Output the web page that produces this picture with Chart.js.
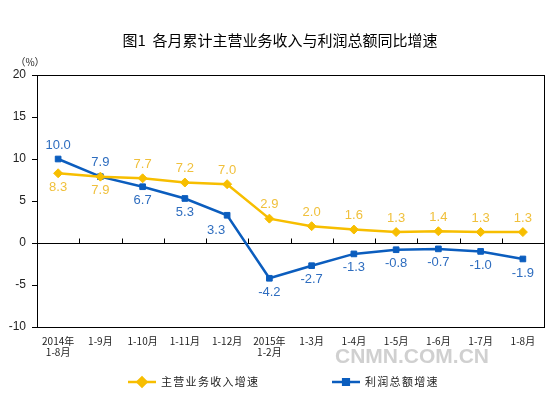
<!DOCTYPE html>
<html>
<head>
<meta charset="utf-8">
<script src="https://cdn.jsdelivr.net/npm/chart.js@4"></script>
<style>
  html, body { margin: 0; padding: 0; background: #fff; }
  #wrap { width: 551px; height: 397px; }
</style>
</head>
<body>
<div id="wrap"><canvas id="growth" width="551" height="397"></canvas></div>
<script>
// data
const categories = [['2014年', '1-8月'], '1-9月', '1-10月', '1-11月', '1-12月', ['2015年', '1-2月'],
  '1-3月', '1-4月', '1-5月', '1-6月', '1-7月', '1-8月'];
const revenueGrowth = [8.3, 7.9, 7.7, 7.2, 7.0, 2.9, 2.0, 1.6, 1.3, 1.4, 1.3, 1.3];
const profitGrowth = [10.0, 7.9, 6.7, 5.3, 3.3, -4.2, -2.7, -1.3, -0.8, -0.7, -1.0, -1.9];
const seriesNames = ['主营业务收入增速', '利润总额增速'];
const yMin = -10, yMax = 20, yStep = 5;

const titleText = '图1  各月累计主营业务收入与利润总额同比增速';
const yellow = '#F7BE00', blue = '#0B5DBE';
const yellowText = '#F0C03C', blueText = '#2E6DBF';

// where each value label sits relative to its point
const revenueLabelSide = ['below', 'below', 'above', 'above', 'above', 'above', 'above', 'above', 'above', 'above', 'above', 'above'];
const profitLabelSide = ['above', 'above', 'below', 'below', 'belowLeft', 'below', 'below', 'below', 'below', 'below', 'below', 'below'];

const decorPlugin = {
  id: 'decor',
  afterDraw(chart) {
    const ctx = chart.ctx;
    const area = chart.chartArea;
    const x = chart.scales.x, y = chart.scales.y;
    ctx.save();
    // frame
    ctx.strokeStyle = '#000';
    ctx.lineWidth = 1;
    ctx.strokeRect(Math.round(area.left) + 0.5, Math.round(area.top) + 0.5,
      Math.round(area.right - area.left), Math.round(area.bottom - area.top));
    // category ticks on the zero line
    const y0 = Math.round(y.getPixelForValue(0)) + 0.5;
    const step = x.getPixelForValue(1) - x.getPixelForValue(0);
    ctx.beginPath();
    for (let i = 1; i < categories.length; i++) {
      const px = Math.round(x.getPixelForValue(i) - step / 2) + 0.5;
      ctx.moveTo(px, y0);
      ctx.lineTo(px, y0 - 5);
    }
    ctx.stroke();

    // title
    ctx.fillStyle = '#000';
    ctx.font = '15px "Noto Sans CJK SC"';
    ctx.textAlign = 'center';
    ctx.textBaseline = 'middle';
    ctx.fillText(titleText, 280, 40);

    // unit
    ctx.font = '10px "Noto Sans CJK SC"';
    ctx.fillStyle = '#222';
    ctx.fillText('（%）', 30, 62);

    // watermark
    ctx.font = 'bold 21px "Liberation Sans"';
    ctx.fillStyle = 'rgba(170,170,170,0.55)';
    ctx.fillText('CNMN.COM.CN', 412, 357);

    // legend
    const items = [[128, 0], [332, 1]];
    items.forEach(([lx, di]) => {
      const ds = chart.data.datasets[di];
      const ly = 382;
      ctx.strokeStyle = ds.borderColor;
      ctx.lineWidth = 2.5;
      ctx.beginPath();
      ctx.moveTo(lx, ly);
      ctx.lineTo(lx + 28, ly);
      ctx.stroke();
      Chart.helpers.drawPoint(ctx, {pointStyle: ds.pointStyle, radius: ds.pointRadius, borderWidth: 1},
        lx + 14, ly);
      ctx.fillStyle = ds.borderColor;
      ctx.fill();
      ctx.fillStyle = '#222';
      ctx.font = '11px "Noto Sans CJK SC"';
      ctx.letterSpacing = '1.3px';
      ctx.textAlign = 'left';
      ctx.fillText(ds.label, lx + 33, ly);
      ctx.letterSpacing = '0px';
    });
    ctx.restore();
  },
  afterDatasetsDraw(chart) {
    const ctx = chart.ctx;
    ctx.save();
    ctx.font = '13px "Liberation Sans"';
    ctx.textAlign = 'center';
    ctx.textBaseline = 'middle';
    const sides = [revenueLabelSide, profitLabelSide];
    const colors = [yellowText, blueText];
    chart.data.datasets.forEach((ds, di) => {
      const meta = chart.getDatasetMeta(di);
      meta.data.forEach((pt, i) => {
        const side = sides[di][i];
        let dx = 0, dy = side === 'above' ? -14 : 14;
        if (side === 'belowLeft') { dx = -11; dy = 15; }
        ctx.fillStyle = colors[di];
        ctx.fillText(ds.data[i].toFixed(1), pt.x + dx, pt.y + dy);
      });
    });
    ctx.restore();
  }
};

new Chart(document.getElementById('growth'), {
  type: 'line',
  data: {
    labels: categories,
    datasets: [
      {
        label: seriesNames[0],
        data: revenueGrowth,
        borderColor: yellow,
        backgroundColor: yellow,
        borderWidth: 2.5,
        pointStyle: 'rectRot',
        pointRadius: 4.5,
        pointBorderWidth: 1,
        tension: 0
      },
      {
        label: seriesNames[1],
        data: profitGrowth,
        borderColor: blue,
        backgroundColor: blue,
        borderWidth: 2.5,
        pointStyle: 'rect',
        pointRadius: 4,
        pointBorderWidth: 1,
        tension: 0
      }
    ]
  },
  options: {
    responsive: false,
    animation: false,
    devicePixelRatio: 1,
    layout: { padding: { top: 75, right: 7, bottom: 40, left: 0 } },
    plugins: {
      legend: { display: false },
      title: { display: false },
      tooltip: { enabled: false }
    },
    scales: {
      x: {
        offset: true,
        afterFit: s => { s.height = 30; },
        grid: { display: false, drawTicks: false },
        border: { display: false },
        ticks: {
          color: '#222',
          padding: 9,
          autoSkip: false,
          maxRotation: 0,
          font: { family: '"Noto Sans CJK SC"', size: 10, lineHeight: 1.05 }
        }
      },
      y: {
        min: yMin,
        max: yMax,
        afterFit: s => { s.width = 37; },
        grid: {
          color: c => (c.tick && c.tick.value === 0 ? '#000' : 'rgba(0,0,0,0)'),
          tickColor: '#000',
          tickLength: 5
        },
        border: { display: false },
        ticks: {
          stepSize: yStep,
          padding: 6,
          color: '#222',
          font: { family: '"Liberation Sans"', size: 12 }
        }
      }
    }
  },
  plugins: [decorPlugin]
});
</script>
</body>
</html>
